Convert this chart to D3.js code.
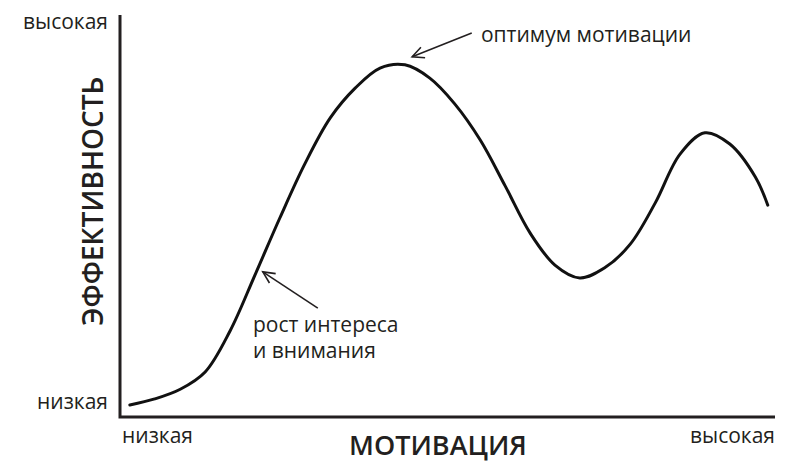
<!DOCTYPE html>
<html><head><meta charset="utf-8">
<script src="https://cdn.jsdelivr.net/npm/d3@7"></script>
<style>body{margin:0;background:#fff}text{font-family:"Open Sans",sans-serif;fill:#231f20}</style>
</head><body><svg id="c" width="800" height="472"></svg>
<script>
const motivation = [1.5,5.3,9.2,13.0,16.8,20.6,24.4,28.2,32.1,35.9,39.7,43.5,47.3,51.1,55.0,58.8,62.6,66.4,70.2,74.0,77.9,81.7,85.5,89.3,93.1,97.0,98.9];
const performance = [3.0,4.5,6.9,11.2,21.4,35.3,49.5,62.9,74.4,81.8,86.8,87.6,84.3,77.9,68.9,57.5,45.8,37.8,34.6,37.1,43.0,53.2,65.4,70.7,67.9,59.7,52.7];
const xTickLabels = ["низкая","высокая"];
const yTickLabels = ["низкая","высокая"];
const xTitle = "МОТИВАЦИЯ";
const yTitle = "ЭФФЕКТИВНОСТЬ";
const annotations = [
  {lines:["оптимум мотивации"], from:[53.7,95.5], to:[44.6,89.6], text:[55.1,93.3]},
  {lines:["рост интереса","и внимания"], from:[30.2,27.1], to:[21.8,36.1], text:[20.3,21.1]}
];

const svg = d3.select("#c");
const x = d3.scaleLinear().domain([0,100]).range([120,775]);
const y = d3.scaleLinear().domain([0,100]).range([417,15]);

// axes
svg.append("path").attr("d", d3.line()([[x(0),y(100)],[x(0),y(0)],[x(100),y(0)]]))
  .attr("fill","none").attr("stroke","#231f20").attr("stroke-width",3);

// curve
const pts = motivation.map((m,i)=>[m,performance[i]]);
svg.append("path").datum(pts)
  .attr("d", d3.line().x(d=>x(d[0])).y(d=>y(d[1])).curve(d3.curveCatmullRom.alpha(0.5)))
  .attr("fill","none").attr("stroke","#111").attr("stroke-width",3).attr("stroke-linecap","round");

// tick labels
const fs = 21;
svg.append("text").attr("x",x(0)-12).attr("y",y(100)+14).attr("text-anchor","end").attr("font-size",fs).text(yTickLabels[1]);
svg.append("text").attr("x",x(0)-12).attr("y",y(0)-8).attr("text-anchor","end").attr("font-size",fs).text(yTickLabels[0]);
svg.append("text").attr("x",x(0)+2).attr("y",y(0)+26).attr("text-anchor","start").attr("font-size",fs).text(xTickLabels[0]);
svg.append("text").attr("x",x(100)).attr("y",y(0)+26).attr("text-anchor","end").attr("font-size",fs).text(xTickLabels[1]);

// titles
svg.append("text").attr("x",438).attr("y",y(0)+38).attr("text-anchor","middle")
  .attr("font-size",27).attr("font-weight",600).text(xTitle);
svg.append("text").attr("transform",`translate(${x(0)-17},${y(53.7)}) rotate(-90)`).attr("text-anchor","middle")
  .attr("font-size",28).attr("font-weight",600).text(yTitle);

// annotations
annotations.forEach(a=>{
  const [x1,y1]=[x(a.from[0]),y(a.from[1])], [x2,y2]=[x(a.to[0]),y(a.to[1])];
  svg.append("line").attr("x1",x1).attr("y1",y1).attr("x2",x2).attr("y2",y2).attr("stroke","#231f20").attr("stroke-width",1.6);
  const ang=Math.atan2(y1-y2,x1-x2), L=13, s=0.45;
  svg.append("path").attr("d",d3.line()([[x2+L*Math.cos(ang+s),y2+L*Math.sin(ang+s)],[x2,y2],[x2+L*Math.cos(ang-s),y2+L*Math.sin(ang-s)]]))
    .attr("fill","none").attr("stroke","#231f20").attr("stroke-width",1.6);
  a.lines.forEach((l,i)=>svg.append("text").attr("x",x(a.text[0])).attr("y",y(a.text[1])+i*26).attr("font-size",fs).text(l));
});
</script></body></html>
